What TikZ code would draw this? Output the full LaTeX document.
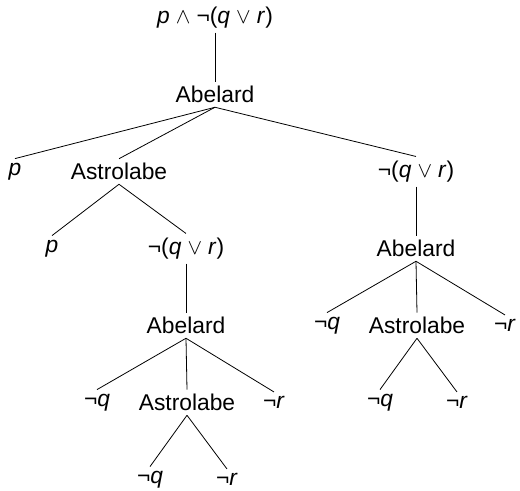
\documentclass[tikz,border=0pt]{standalone}
\usepackage{fontspec}
\setmainfont{Liberation Sans}
\newcommand{\va}[1]{\textit{#1}}
\newcommand{\nqr}{¬(\va{q}$\;\vee\;$\va{r})}
\begin{document}
\begin{tikzpicture}[
                x=0.5pt, y=-0.5pt,
                every node/.style={inner sep=2pt, anchor=center,
                    font=\fontsize{11.4}{13.7}\selectfont}
            ]
            \useasboundingbox (0,0) rectangle (520,491);

            % level centres: 17.5 + 77 k
            \node (root) at (215,17.5) {\va{p}$\;\wedge\;$\nqr};
            \node (ab1) at (215,94.5) {Abelard};

            \node (p1) at (15,171.5) {\va{p}};
            \node (as1) at (119,171.5) {Astrolabe};
            \node (nr1) at (416,171.5) {\nqr};

            \node (p2) at (52,248.5) {\va{p}};
            \node (nl2) at (186,248.5) {\nqr};
            \node (ab3) at (416,248.5) {Abelard};

            \node (ab2) at (186,325.5) {Abelard};
            \node (q3) at (327,325.5) {¬\va{q}};
            \node (as3) at (417,325.5) {Astrolabe};
            \node (r3) at (505,325.5) {¬\va{r}};

            \node (q2) at (97,402.5) {¬\va{q}};
            \node (as2) at (187,402.5) {Astrolabe};
            \node (r2) at (274,402.5) {¬\va{r}};
            \node (q4) at (380,402.5) {¬\va{q}};
            \node (r4) at (457,402.5) {¬\va{r}};

            \node (q5) at (150,479.5) {¬\va{q}};
            \node (r5) at (227,479.5) {¬\va{r}};

            \draw (root.south) -- (ab1.north);
            \draw (ab1.south) -- (p1.north);
            \draw (ab1.south) -- (as1.north);
            \draw (ab1.south) -- (nr1.north);
            \draw (as1.south) -- (p2.north);
            \draw (as1.south) -- (nl2.north);
            \draw (nl2.south) -- (ab2.north);
            \draw (nr1.south) -- (ab3.north);
            \draw (ab3.south) -- (q3.north);
            \draw (ab3.south) -- (as3.north);
            \draw (ab3.south) -- (r3.north);
            \draw (as3.south) -- (q4.north);
            \draw (as3.south) -- (r4.north);
            \draw (ab2.south) -- (q2.north);
            \draw (ab2.south) -- (as2.north);
            \draw (ab2.south) -- (r2.north);
            \draw (as2.south) -- (q5.north);
            \draw (as2.south) -- (r5.north);

        \end{tikzpicture}
\end{document}
